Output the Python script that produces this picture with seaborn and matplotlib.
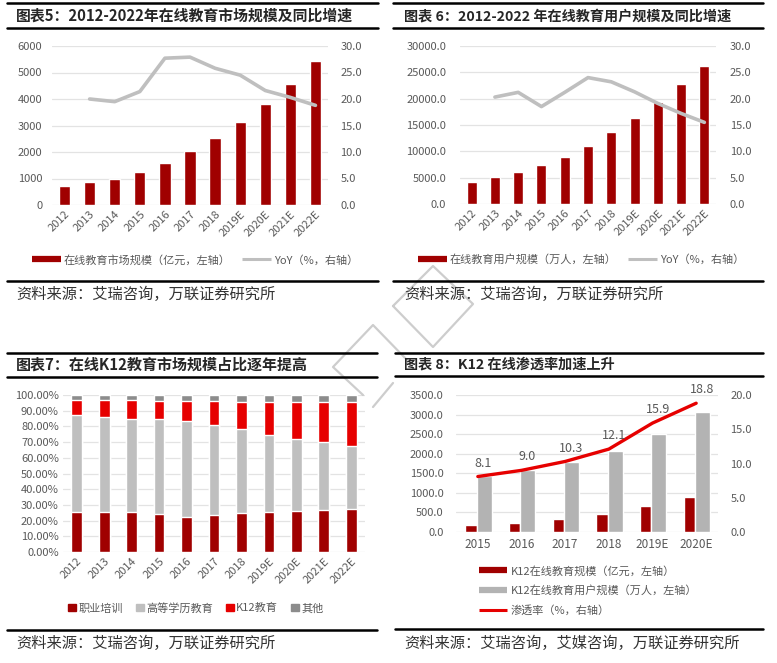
import numpy as np
import pandas as pd
import matplotlib
matplotlib.use('Agg')
from matplotlib import pyplot as plt
from matplotlib.lines import Line2D
from matplotlib.patches import Patch
import seaborn as sns

# chart 5 / 6 : online education market & users
years = ['2012', '2013', '2014', '2015', '2016', '2017', '2018', '2019E', '2020E', '2021E', '2022E']
market_size = [700, 850, 1000, 1230, 1570, 2020, 2540, 3140, 3800, 4580, 5430]
market_yoy = [20.0, 19.5, 21.4, 27.7, 27.9, 25.8, 24.5, 21.6, 20.3, 18.8]  # from 2013
user_size = [4160, 5100, 6050, 7370, 8880, 11030, 13610, 16380, 19400, 22870, 26280]
user_yoy = [20.3, 21.2, 18.5, 21.2, 24.0, 23.2, 21.3, 19.1, 17.2, 15.5]  # from 2013

# chart 7 : market share by segment (%)
share_vocational = [25.6, 25.2, 25.2, 23.9, 22.2, 23.7, 24.8, 25.2, 26.1, 26.7, 27.1]
share_higher = [61.7, 61.0, 59.8, 60.6, 61.5, 57.0, 53.4, 49.4, 46.1, 43.4, 40.5]
share_k12 = [9.5, 10.6, 11.8, 11.9, 12.5, 15.3, 17.6, 21.2, 23.6, 25.7, 28.2]
share_other = [3.2, 3.2, 3.2, 3.6, 3.8, 4.0, 4.2, 4.2, 4.2, 4.2, 4.2]
share_names = ['职业培训', '高等学历教育', 'K12教育', '其他']

# chart 8 : K12 online
k12_years = ['2015', '2016', '2017', '2018', '2019E', '2020E']
k12_market = [178, 229, 322, 466, 670, 898]
k12_users = [1424, 1576, 1797, 2059, 2508, 3076]
k12_rate = [8.1, 9.0, 10.3, 12.1, 15.9, 18.8]

sns.set_theme(style='white')
plt.rcParams['font.family'] = ['Noto Sans CJK SC', 'DejaVu Sans']

DARK = '#A00000'
RED = '#E60000'
LGRAY = '#BFBFBF'
MGRAY = '#B3B3B3'
DGRAY = '#8C8C8C'
TXT = '#595959'
GRID = '#E3E3E3'

W, H = 777, 663
fig = plt.figure(figsize=(W / 100, H / 100), dpi=100)


def add_ax(l, t, r, b):
    return fig.add_axes([l / W, 1 - b / H, (r - l) / W, (b - t) / H])


def style(ax, grid=True):
    for s in ax.spines.values():
        s.set_visible(False)
    ax.tick_params(length=0, colors=TXT, labelsize=8)
    ax.set_xlabel('')
    ax.set_ylabel('')
    if grid:
        ax.yaxis.grid(True, color=GRID, lw=0.9)
        ax.set_axisbelow(True)


def hline(x0, x1, y):
    fig.add_artist(Line2D([x0 / W, x1 / W], [1 - y / H, 1 - y / H], color='black', lw=1.8))


def panel_frame(x0, x1, top, bottom, src_line, title, tsize, source, tx, ty, sy):
    hline(x0, x1, top)
    hline(x0, x1, bottom)
    hline(x0, x1, src_line)
    fig.text(tx / W, 1 - ty / H, title, fontsize=tsize, fontweight='bold', va='center', color='#262626')
    fig.text(tx / W, 1 - sy / H, source, fontsize=11, va='center', color='#333333', style='italic')


def fig_legend(ax, handles, labels, cx, cy, **kw):
    opts = dict(loc='center', bbox_to_anchor=(cx / W, 1 - cy / H), bbox_transform=fig.transFigure,
                frameon=False, fontsize=8, labelcolor=TXT, handletextpad=0.3, borderpad=0)
    opts.update(kw)
    ax.legend(handles=handles, labels=labels, **opts)


def key(color, lw):
    return Line2D([], [], color=color, lw=lw, solid_capstyle='butt')


# ---------- chart 5 ----------
ax1 = add_ax(52, 46, 328, 205)
df1 = pd.DataFrame({'year': years, 'size': market_size})
sns.barplot(data=df1, x='year', y='size', color=DARK, saturation=1, width=0.45, ax=ax1)
ax1.set_ylim(0, 6000)
ax1.set_yticks(range(0, 6001, 1000))
style(ax1)
ax1.tick_params(axis='y', pad=7)
ax1.tick_params(axis='x', pad=3)
plt.setp(ax1.get_xticklabels(), rotation=45, ha='right', rotation_mode='anchor')
ax1b = ax1.twinx()
sns.lineplot(x=np.arange(1, len(years)), y=market_yoy, color=LGRAY, lw=2.6, ax=ax1b)
ax1b.set_ylim(0, 30)
ax1b.set_yticks(range(0, 31, 5))
ax1b.set_yticklabels([f'{v:.1f}' for v in range(0, 31, 5)])
style(ax1b, grid=False)
ax1b.tick_params(axis='y', pad=9)
ax1.set_xlim(-0.5, len(years) - 0.5)
fig_legend(ax1b, [key(DARK, 4.5), key(LGRAY, 2.2)],
           ['在线教育市场规模（亿元，左轴）', 'YoY（%，右轴）'], 195, 260, ncol=2,
           handlelength=2.6, columnspacing=1.0)
panel_frame(7, 378, 3, 28, 281, '图表5：2012-2022年在线教育市场规模及同比增速', 10.7,
            '资料来源：艾瑞咨询，万联证券研究所', 16, 16, 294)

# ---------- chart 6 ----------
ax2 = add_ax(460, 46, 716, 204)
df2 = pd.DataFrame({'year': years, 'size': user_size})
sns.barplot(data=df2, x='year', y='size', color=DARK, saturation=1, width=0.43, ax=ax2)
ax2.set_ylim(0, 30000)
ax2.set_yticks(range(0, 30001, 5000))
ax2.set_yticklabels([f'{v:.1f}' for v in range(0, 30001, 5000)])
style(ax2)
ax2.tick_params(axis='y', pad=10)
ax2.tick_params(axis='x', pad=3)
plt.setp(ax2.get_xticklabels(), rotation=45, ha='right', rotation_mode='anchor')
ax2b = ax2.twinx()
sns.lineplot(x=np.arange(1, len(years)), y=user_yoy, color=LGRAY, lw=2.6, ax=ax2b)
ax2b.set_ylim(0, 30)
ax2b.set_yticks(range(0, 31, 5))
ax2b.set_yticklabels([f'{v:.1f}' for v in range(0, 31, 5)])
style(ax2b, grid=False)
ax2b.tick_params(axis='y', pad=10)
ax2.set_xlim(-0.5, len(years) - 0.5)
fig_legend(ax2b, [key(DARK, 4.5), key(LGRAY, 2.2)],
           ['在线教育用户规模（万人，左轴）', 'YoY（%，右轴）'], 581, 259, ncol=2,
           handlelength=2.6, columnspacing=1.0)
panel_frame(393, 763, 3, 28, 281, '图表 6：2012-2022 年在线教育用户规模及同比增速', 10.2,
            '资料来源：艾瑞咨询，万联证券研究所', 404, 16, 294)

# ---------- chart 7 ----------
ax3 = add_ax(63, 395, 365, 552)
shares = [share_vocational, share_higher, share_k12, share_other]
tops = np.cumsum(np.array(shares), axis=0)
colors3 = [DARK, LGRAY, RED, DGRAY]
for i in range(3, -1, -1):
    df3 = pd.DataFrame({'year': years, 'top': tops[i]})
    sns.barplot(data=df3, x='year', y='top', color=colors3[i], saturation=1, width=0.39, ax=ax3)
ax3.set_ylim(0, 100)
ax3.set_yticks(range(0, 101, 10))
ax3.set_yticklabels([f'{v:.2f}%' for v in range(0, 101, 10)])
style(ax3)
ax3.tick_params(axis='y', pad=3)
ax3.tick_params(axis='x', pad=3)
plt.setp(ax3.get_xticklabels(), rotation=45, ha='right', rotation_mode='anchor')
fig_legend(ax3, [Patch(color=c) for c in colors3], share_names, 196, 608, ncol=4,
           handlelength=0.7, handleheight=0.7, columnspacing=1.2, handletextpad=0.2)
panel_frame(7, 377, 353, 377, 630, '图表7：在线K12教育市场规模占比逐年提高', 10.8,
            '资料来源：艾瑞咨询，万联证券研究所', 16, 365, 643)

# ---------- chart 8 ----------
ax4 = add_ax(456, 395, 718, 532)
df4 = pd.DataFrame({'year': k12_years * 2,
                    'value': k12_market + k12_users,
                    'series': ['K12在线教育规模（亿元，左轴）'] * len(k12_years)
                    + ['K12在线教育用户规模（万人，左轴）'] * len(k12_years)})
sns.barplot(data=df4, x='year', y='value', hue='series', palette=[DARK, MGRAY], saturation=1,
            width=0.61, gap=0, ax=ax4, legend=False)
# narrower red bar, wider grey bar (as in the source)
n4 = len(k12_years)
for j, p in enumerate(ax4.patches[:2 * n4]):
    c = j % n4
    if j < n4:
        p.set_x(c - 0.29)
        p.set_width(0.26)
    else:
        p.set_x(c - 0.03)
        p.set_width(0.35)
ax4.set_ylim(0, 3500)
ax4.set_yticks(range(0, 3501, 500))
ax4.set_yticklabels([f'{v:.1f}' for v in range(0, 3501, 500)])
style(ax4)
ax4.tick_params(axis='y', pad=9)
ax4.tick_params(axis='x', pad=4, labelsize=8.5)
ax4b = ax4.twinx()
sns.lineplot(x=np.arange(n4), y=k12_rate, color=RED, lw=2.4, ax=ax4b)
for i, v in enumerate(k12_rate):
    ax4b.annotate(f'{v:.1f}', (i, v), xytext=(4, 5), textcoords='offset points',
                  ha='center', va='bottom', fontsize=9, color=TXT)
ax4b.set_ylim(0, 20)
ax4b.set_yticks(range(0, 21, 5))
ax4b.set_yticklabels([f'{v:.1f}' for v in range(0, 21, 5)])
style(ax4b, grid=False)
ax4b.tick_params(axis='y', pad=9)
ax4.set_xlim(-0.5, n4 - 0.5)
fig_legend(ax4b, [key(DARK, 4.5), key(MGRAY, 4.5), key(RED, 2.2)],
           ['K12在线教育规模（亿元，左轴）', 'K12在线教育用户规模（万人，左轴）', '渗透率（%，右轴）'],
           473, 560, loc='upper left', ncol=1, handlelength=2.6, labelspacing=0.8)
panel_frame(395, 763, 353, 376, 629, '图表 8：K12 在线渗透率加速上升', 10.2,
            '资料来源：艾瑞咨询，艾媒咨询，万联证券研究所', 404, 365, 643)

# faint logo watermark in the middle of the page
wm = dict(color='#C8C8C8', lw=1.6, alpha=0.9, zorder=0.5)
for path in ([(393, 306), (433, 266), (473, 304), (433, 347), (393, 306)],
             [(407, 360), (373, 325), (333, 367), (363, 395)],
             [(393, 383), (373, 407)]):
    xs = [p[0] / W for p in path]
    ys = [1 - p[1] / H for p in path]
    fig.add_artist(Line2D(xs, ys, **wm))

fig.savefig('out.png', dpi=100)
